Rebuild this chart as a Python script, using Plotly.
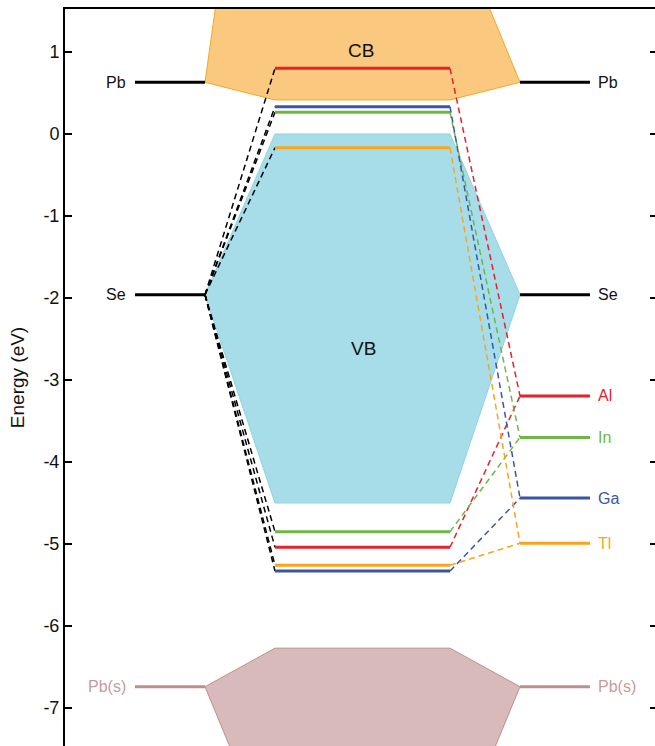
import plotly.graph_objects as go

# ---------------- data ----------------
# column x positions (horizontal layout units)
x_left = [70, 140]
x_mid = [210, 385]
x_right = [455, 525]

# host (PbSe) levels
pb_level = 0.63
se_level = -1.96
pbs_level = -6.74

# bands
cb_bottom = 0.415
vb_top = 0.0
vb_bottom = -4.5
pbs_top = -6.27

# dopant levels
dopants = ["Al", "In", "Ga", "Tl"]
dopant_colors = ["#E8202A", "#6DB844", "#3A55A4", "#F9A51B"]
mid_upper = [0.80, 0.265, 0.333, -0.167]
mid_lower = [-5.04, -4.85, -5.33, -5.26]
right_levels = [-3.195, -3.70, -4.44, -4.99]

y_ticks = [1, 0, -1, -2, -3, -4, -5, -6, -7]
y_ticktext = ["1", "0", "-1", "-2", "-3", "-4", "-5", "-6", "-7"]

FONT = "Liberation Sans, Arial, Helvetica, sans-serif"

fig = go.Figure()

# CB polygon (clipped at top)
fig.add_trace(go.Scatter(
    x=[x_left[1], 158, 402, x_right[0], x_mid[1], x_mid[0], x_left[1]],
    y=[pb_level, 2.2, 2.2, pb_level, cb_bottom, cb_bottom, pb_level],
    fill="toself", fillcolor="rgba(250,194,112,0.9)",
    line=dict(color="#F5A623", width=1), mode="lines", hoverinfo="skip"))

# VB polygon
fig.add_trace(go.Scatter(
    x=[x_mid[0], x_left[1], x_mid[0], x_mid[1], x_right[0], x_mid[1], x_mid[0]],
    y=[vb_top, se_level, vb_bottom, vb_bottom, se_level, vb_top, vb_top],
    fill="toself", fillcolor="rgba(150,215,228,0.85)",
    line=dict(color="#8ED3E0", width=1), mode="lines", hoverinfo="skip"))

# Pb(s) polygon (clipped at bottom)
fig.add_trace(go.Scatter(
    x=[x_left[1], x_mid[0], x_mid[1], x_right[0], 385, 210, x_left[1]],
    y=[pbs_level, pbs_top, pbs_top, pbs_level, -8.8, -8.8, pbs_level],
    fill="toself", fillcolor="rgba(212,178,178,0.9)",
    line=dict(color="#BE8E8E", width=1), mode="lines", hoverinfo="skip"))

# host levels left and right
for lvl, col in [(pb_level, "black"), (se_level, "black"), (pbs_level, "#C08E8E")]:
    for xs in (x_left, x_right):
        fig.add_trace(go.Scatter(x=xs, y=[lvl, lvl], mode="lines",
                                 line=dict(color=col, width=3), hoverinfo="skip"))

# black dashed lines from Se to mid levels
for v in mid_upper + mid_lower:
    fig.add_trace(go.Scatter(x=[x_left[1], x_mid[0]], y=[se_level, v], mode="lines",
                             line=dict(color="black", width=1.5, dash="6px,4px"),
                             hoverinfo="skip"))

# colored dashed lines mid -> right
for up, lo, r, c in zip(mid_upper, mid_lower, right_levels, dopant_colors):
    for v in (up, lo):
        fig.add_trace(go.Scatter(x=[x_mid[1], x_right[0]], y=[v, r], mode="lines",
                                 line=dict(color=c, width=1.5, dash="6px,4px"),
                                 hoverinfo="skip"))

# mid levels and right levels
for up, lo, r, c in zip(mid_upper, mid_lower, right_levels, dopant_colors):
    for v in (up, lo):
        fig.add_trace(go.Scatter(x=x_mid, y=[v, v], mode="lines",
                                 line=dict(color=c, width=3), hoverinfo="skip"))
    fig.add_trace(go.Scatter(x=x_right, y=[r, r], mode="lines",
                             line=dict(color=c, width=3), hoverinfo="skip"))

# labels
ann = []
for txt, lvl, col in [("Pb", pb_level, "#111"), ("Se", se_level, "#111"), ("Pb(s)", pbs_level, "#C99A9A")]:
    ann.append(dict(x=x_left[0] - 7, y=lvl, text=txt, xanchor="right", showarrow=False,
                    font=dict(size=16, color=col, family=FONT)))
    ann.append(dict(x=x_right[1] + 6, y=lvl, text=txt, xanchor="left", showarrow=False,
                    font=dict(size=16, color=col, family=FONT)))
for d, r, c in zip(dopants, right_levels, dopant_colors):
    ann.append(dict(x=x_right[1] + 6, y=r, text=d, xanchor="left", showarrow=False,
                    font=dict(size=16, color=c, family=FONT)))
ann.append(dict(x=296, y=1.02, text="CB", showarrow=False, font=dict(size=19, color="#111", family=FONT)))
ann.append(dict(x=298, y=-2.62, text="VB", showarrow=False, font=dict(size=19, color="#111", family=FONT)))

fig.update_layout(
    width=655, height=746,
    margin=dict(l=65, r=0, t=9, b=0),
    plot_bgcolor="white", paper_bgcolor="white",
    showlegend=False,
    annotations=ann,
    font=dict(family=FONT, color="#111"),
    xaxis=dict(range=[0, 590], showgrid=False, zeroline=False, showticklabels=False,
               ticks="", showline=True, linecolor="black", linewidth=2, side="top",
               fixedrange=True, automargin=False),
    yaxis=dict(range=[-7.463, 1.524], tickvals=y_ticks, ticktext=y_ticktext,
               ticks="inside", ticklen=7, tickwidth=2, tickcolor="black",
               showline=True, linecolor="black", linewidth=2,
               showgrid=False, zeroline=False, automargin=False,
               tickfont=dict(size=18, family=FONT, color="#111"),
               title=dict(text="Energy (eV)", font=dict(size=19, family=FONT, color="#111"), standoff=14)),
    yaxis2=dict(range=[-7.463, 1.524], overlaying="y", side="right", anchor="x", tickvals=y_ticks,
                showticklabels=False, ticks="inside", ticklen=5, tickwidth=2, tickcolor="black",
                showline=False, showgrid=False, zeroline=False, automargin=False),
)
fig.add_trace(go.Scatter(x=[0], y=[0], yaxis="y2", mode="markers", marker=dict(opacity=0),
                         hoverinfo="skip"))

fig.write_html("out.html", config={"displayModeBar": False},
               post_script="document.body.style.margin='0';document.body.style.overflow='hidden';")
